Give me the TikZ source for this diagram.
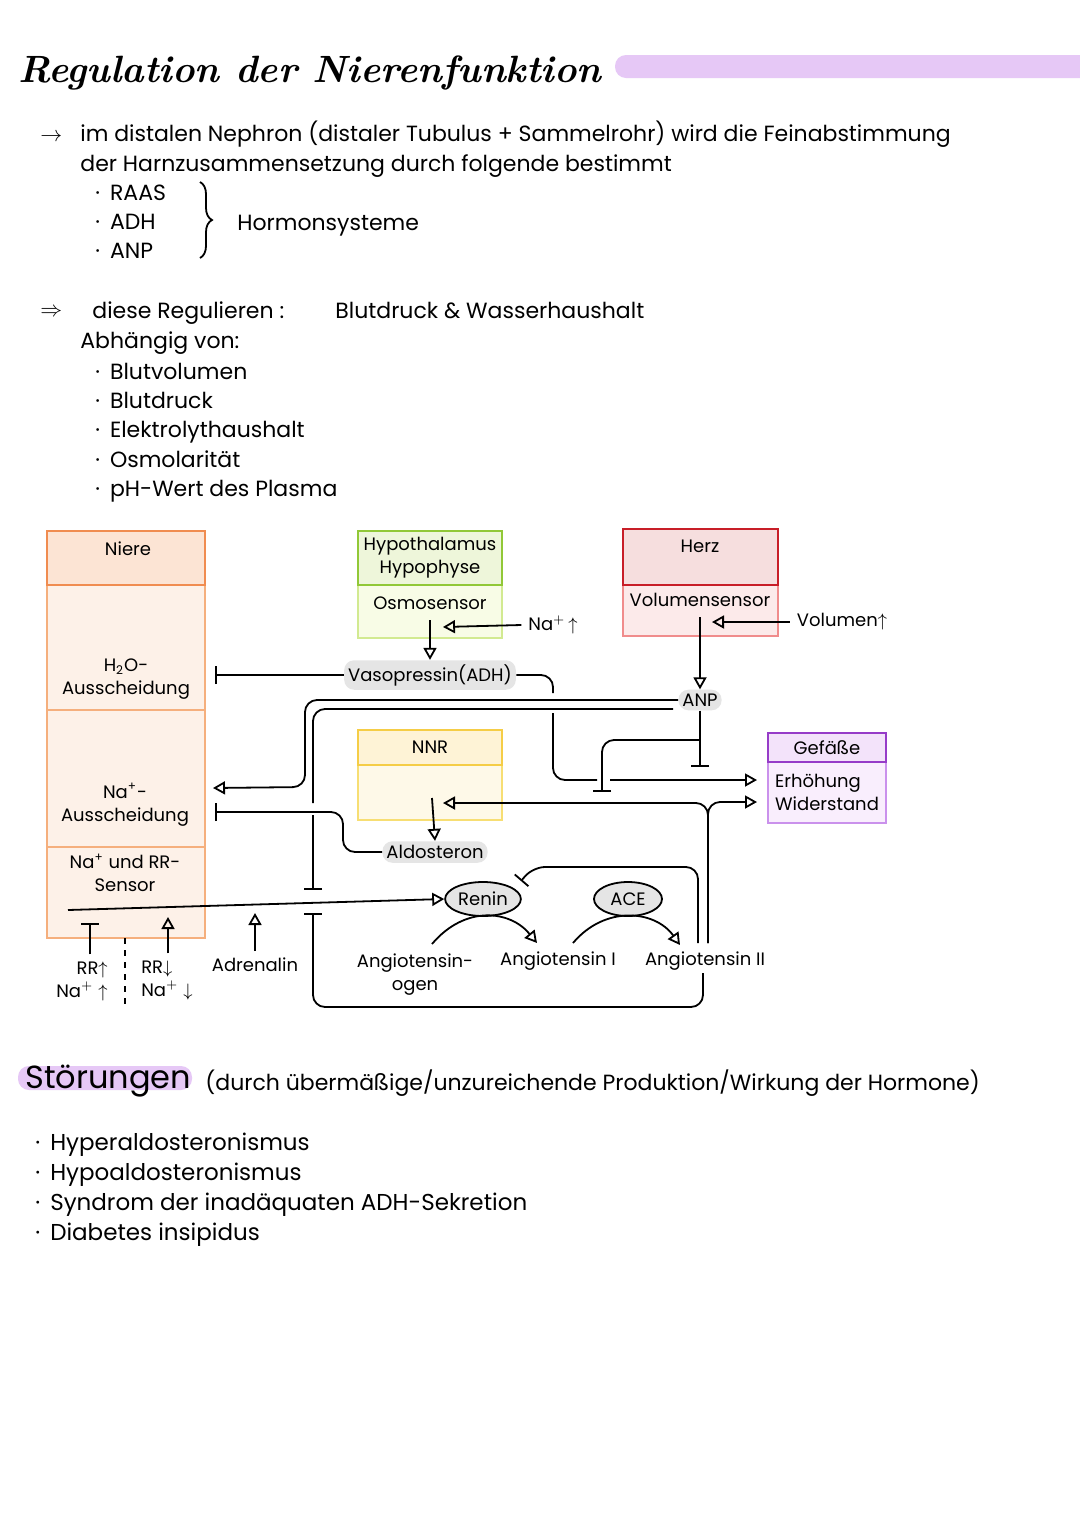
\documentclass[tikz,border=0pt]{standalone}
\usepackage{fontspec}
\setsansfont{Poppins}
\usetikzlibrary{arrows.meta,positioning,calc,shapes.geometric,decorations.pathreplacing}

\definecolor{lila}{RGB}{230,200,246}
\definecolor{grau}{RGB}{229,229,229}
\definecolor{nierekopf}{RGB}{252,228,212}
\definecolor{nierehell}{RGB}{253,241,232}
\definecolor{nierekante}{RGB}{240,140,80}
\definecolor{nierelinie}{RGB}{245,175,125}
\definecolor{hypokopf}{RGB}{238,246,218}
\definecolor{hypohell}{RGB}{248,252,230}
\definecolor{hypokante}{RGB}{145,200,55}
\definecolor{hypolinie}{RGB}{210,234,145}
\definecolor{herzkopf}{RGB}{246,222,222}
\definecolor{herzhell}{RGB}{252,234,234}
\definecolor{herzkante}{RGB}{200,30,40}
\definecolor{herzlinie}{RGB}{240,140,140}
\definecolor{nnrkopf}{RGB}{254,243,214}
\definecolor{nnrhell}{RGB}{254,249,232}
\definecolor{nnrkante}{RGB}{245,205,70}
\definecolor{nnrlinie}{RGB}{247,222,115}
\definecolor{gefkopf}{RGB}{243,227,250}
\definecolor{gefhell}{RGB}{249,238,253}
\definecolor{gefkante}{RGB}{150,60,200}
\definecolor{geflinie}{RGB}{202,145,236}

\begin{document}
\begin{tikzpicture}
	[x=0.5pt, y=-0.5pt,
	> = {Triangle[open,length=6pt,width=6.5pt]},
	every node/.style = {font=\sffamily\fontsize{9}{11.5}\selectfont},
	txt/.style = {anchor=base west, inner sep=0pt, font=\sffamily\fontsize{11}{13}\selectfont},
	liste/.style = {anchor=base west, inner sep=0pt, font=\sffamily\fontsize{11.5}{14}\selectfont},
	box/.style = {draw, line width=1pt, inner sep=0pt, align=center},
	hormon/.style = {fill=grau, rounded corners=5pt, inner sep=2pt},
	enzym/.style = {draw, ellipse, fill=grau, line width=0.9pt, inner sep=1pt},
	verb/.style = {line width=0.9pt, rounded corners=6pt},
	hemmt/.style = {-{Bar[width=9pt]}}
	]
	\useasboundingbox[fill=white] (0,0) rectangle (1080,1527);

	% Kopf
	\fill[lila, rounded corners=5.5pt] (615,55) rectangle (1100,78);
	\node[anchor=base west, inner sep=0pt, font=\rmfamily\bfseries\itshape\fontsize{19}{23}\selectfont] (titel) at (18,82) {Regulation der Nierenfunktion};

	\node[txt] (pfeil1) at (40,141) {$\rightarrow$};
	\node[txt] (zeile1) at (80,141) {im distalen Nephron (distaler Tubulus + Sammelrohr) wird die Feinabstimmung};
	\node[txt] (zeile2) at (80,171) {der Harnzusammensetzung durch folgende bestimmt};
	\foreach \t [count=\i] in {RAAS,ADH,ANP}
		\node[txt] (hs\i) at (95,171+29*\i) {·\hspace{5pt}\t};
	\draw[decorate, decoration={brace, amplitude=6pt}, line width=0.9pt] (200,182) -- (200,258);
	\node[txt] (hormsys) at (237,230) {Hormonsysteme};

	\node[txt] (pfeil2) at (40,316) {$\Rightarrow$};
	\node[txt] (zeile3) at (92,318) {diese Regulieren :};
	\node[txt] (zeile3b) at (335,318) {Blutdruck \& Wasserhaushalt};
	\node[txt] (zeile4) at (80,348) {Abhängig von:};
	\foreach \t [count=\i] in {Blutvolumen,Blutdruck,Elektrolythaushalt,Osmolarität,pH-Wert des Plasma}
		\node[txt] (abh\i) at (95,350+29.3*\i) {·\hspace{5pt}\t};

	% Niere
	\node[box, fill=nierehell, draw=nierelinie, minimum width=79pt, minimum height=62.5pt] (h2obox) at (126,647.5) {};
	\node[box, fill=nierehell, draw=nierelinie, minimum width=79pt, minimum height=68.5pt] (nabox) at (126,778.5) {};
	\node[box, fill=nierehell, draw=nierelinie, minimum width=79pt, minimum height=45.5pt] (sensbox) at (126,892.5) {};
	\node[box, fill=nierekopf, draw=nierekante, minimum width=79pt, minimum height=27pt] (niere) at (126,558) {};
	\node (nieretxt) at (128,549) {Niere};
	\node[align=center] (h2otxt) at (126,679) {H\textsubscript{2}O-\\Ausscheidung};
	\node[align=center] (natxt) at (125,805) {Na\textsuperscript{+}-\\Ausscheidung};
	\node[align=center] (senstxt) at (125,873) {Na\textsuperscript{+} und RR-\\Sensor};

	% Hypothalamus
	\node[box, fill=hypohell, draw=hypolinie, minimum width=72pt, minimum height=26.5pt] (osmobox) at (430,611.5) {};
	\node[box, fill=hypokopf, draw=hypokante, minimum width=72pt, minimum height=27pt] (hypo) at (430,558) {Hypothalamus\\Hypophyse};
	\node (osmotxt) at (430,603) {Osmosensor};

	% Herz
	\node[box, fill=herzhell, draw=herzlinie, minimum width=77.5pt, minimum height=25.5pt] (volbox) at (700.5,610.5) {};
	\node[box, fill=herzkopf, draw=herzkante, minimum width=77.5pt, minimum height=28pt] (herz) at (700.5,557) {};
	\node (herztxt) at (700,546) {Herz};
	\node (voltxt) at (700,600) {Volumensensor};

	% NNR
	\node[box, fill=nnrhell, draw=nnrlinie, minimum width=72pt, minimum height=27.5pt] (nnrbox) at (430,792.5) {};
	\node[box, fill=nnrkopf, draw=nnrkante, minimum width=72pt, minimum height=17.5pt] (nnr) at (430,747.5) {NNR};

	% Gefaesse
	\node[box, fill=gefhell, draw=geflinie, minimum width=59pt, minimum height=30.5pt, align=left] (gefbox) at (827,792.5) {Erhöhung\\Widerstand};
	\node[box, fill=gefkopf, draw=gefkante, minimum width=59pt, minimum height=14.5pt] (gef) at (827,747.5) {Gefäße};

	% Hormone, Enzyme, Beschriftungen
	\node[hormon] (vaso) at (430,675) {Vasopressin(ADH)};
	\node[hormon] (anp) at (700,700) {ANP};
	\node[hormon] (aldo) at (435,852) {Aldosteron};
	\node[enzym, minimum width=32pt, minimum height=17pt] (renin) at (483,899) {Renin};
	\node[enzym, minimum width=34pt, minimum height=17pt] (ace) at (628,899) {ACE};
	\node (nahoch) at (553,625) {Na$^+$\,$\uparrow$};
	\node (volhoch) at (842,622) {Volumen$\uparrow$};
	\node (adren) at (255,965) {Adrenalin};
	\node[align=right] (rrhoch) at (82,981) {RR$\uparrow$\\Na$^+\uparrow$};
	\node[align=left] (rrtief) at (167,980) {RR$\downarrow$\\Na$^+\downarrow$};
	\node[align=center] (agen) at (415,975) {Angiotensin-\\ogen};
	\node (ang1) at (558,961) {Angiotensin I};
	\node (ang2) at (705,961) {Angiotensin II};

	\coordinate (osmoaus) at (430,620);
	\coordinate (osmoein) at (443,627);
	\coordinate (h2oein) at (215,675);
	\coordinate (vasoA) at (553,693);
	\coordinate (vasoB) at (553,713);
	\coordinate (vasoC) at (597,780);
	\coordinate (vasoD) at (610,780);
	\coordinate (gefein1) at (757,780);
	\coordinate (gefein2) at (757,802);
	\coordinate (volaus) at (700,617);
	\coordinate (volein) at (712,622);
	\coordinate (anpbar) at (700,767);
	\coordinate (anpzweig) at (700,740);
	\coordinate (adhbar) at (602,792);
	\coordinate (anpinnen) at (673,709);
	\coordinate (naein) at (213,788);
	\coordinate (innenA) at (313,803);
	\coordinate (innenB) at (313,815);
	\coordinate (reninbar1) at (313,890);
	\coordinate (reninbar2) at (313,913);
	\coordinate (nnraus) at (432,798);
	\coordinate (nnrein) at (443,803);
	\coordinate (naaus) at (215,812);
	\coordinate (sensor) at (68,910);
	\coordinate (sensA) at (90,923);
	\coordinate (sensB) at (168,917);
	\coordinate (adrenein) at (255,913);
	\coordinate (trennA) at (125,938);
	\coordinate (trennB) at (125,1007);
	\coordinate (agenaus) at (432,944);
	\coordinate (ang1ein) at (537,943);
	\coordinate (ang1aus) at (573,943);
	\coordinate (ang2ein) at (680,945);
	\coordinate (ang2hoch) at (708,943);
	\coordinate (ang2links) at (698,943);
	\coordinate (ang2unten) at (703,973);
	\coordinate (reninknick) at (533,867);
	\coordinate (reninein) at (521,881);

	% ADH
	\draw[verb,->] (osmoaus) -- (vaso.north);
	\draw[verb,->] (nahoch.west) -- (osmoein);
	\draw[verb,hemmt] (vaso.west) -- (h2oein);
	\draw[verb] (vaso.east) -| (vasoA);
	\draw[verb] (vasoB) |- (vasoC);
	\draw[verb,->] (vasoD) -- (gefein1);

	% ANP
	\draw[verb,->] (volaus) -- (anp.north);
	\draw[verb,->] (volhoch.west) -- (volein);
	\draw[verb,hemmt] (anp.south) -- (anpbar);
	\draw[verb,hemmt] (anpzweig) -| (adhbar);
	\draw[verb,->] (anp.west) -| (305,787) -- (naein);
	\draw[verb] (anpinnen) -| (innenA);
	\draw[verb,hemmt] (innenB) -- (reninbar1);

	% Aldosteron
	\draw[verb,->] (nnraus) -- (aldo.north);
	\draw[verb,hemmt] (aldo.west) -| (343,812) -- (naaus);

	% Sensor und Renin
	\draw[verb,->] (sensor) -- (renin.west);
	\draw[verb,hemmt] (rrhoch.north -| sensA) -- (sensA);
	\draw[verb,->] (rrtief.north -| sensB) -- (sensB);
	\draw[verb,->] (adren.north) -- (adrenein);
	\draw[verb,dashed] (trennA) -- (trennB);

	% RAAS
	\draw[verb,->] (agenaus) .. controls (465,905) and (510,910) .. (ang1ein);
	\draw[verb,->] (ang1aus) .. controls (605,905) and (655,910) .. (ang2ein);
	\draw[verb,->] (ang2hoch) |- (nnrein);
	\draw[verb,->] (ang2hoch) |- (gefein2);
	\draw[verb,hemmt] (ang2links) |- (reninknick) -- (reninein);
	\draw[verb,hemmt] (ang2unten) |- (313,1007) -- (reninbar2);

	% Stoerungen
	\fill[lila, rounded corners=5.5pt] (18,1066) rectangle (192,1090);
	\node[anchor=base west, inner sep=0pt, font=\sffamily\fontsize{16}{19}\selectfont] (stoer) at (25,1088) {Störungen};
	\node[txt] (stoer2) at (205,1090) {(durch übermäßige/unzureichende Produktion/Wirkung der Hormone)};
	\foreach \t [count=\i] in {Hyperaldosteronismus,Hypoaldosteronismus,Syndrom der inadäquaten ADH-Sekretion,Diabetes insipidus}
		\node[liste] (st\i) at (35,1120+30*\i) {·\hspace{5pt}\t};
\end{tikzpicture}
\end{document}
